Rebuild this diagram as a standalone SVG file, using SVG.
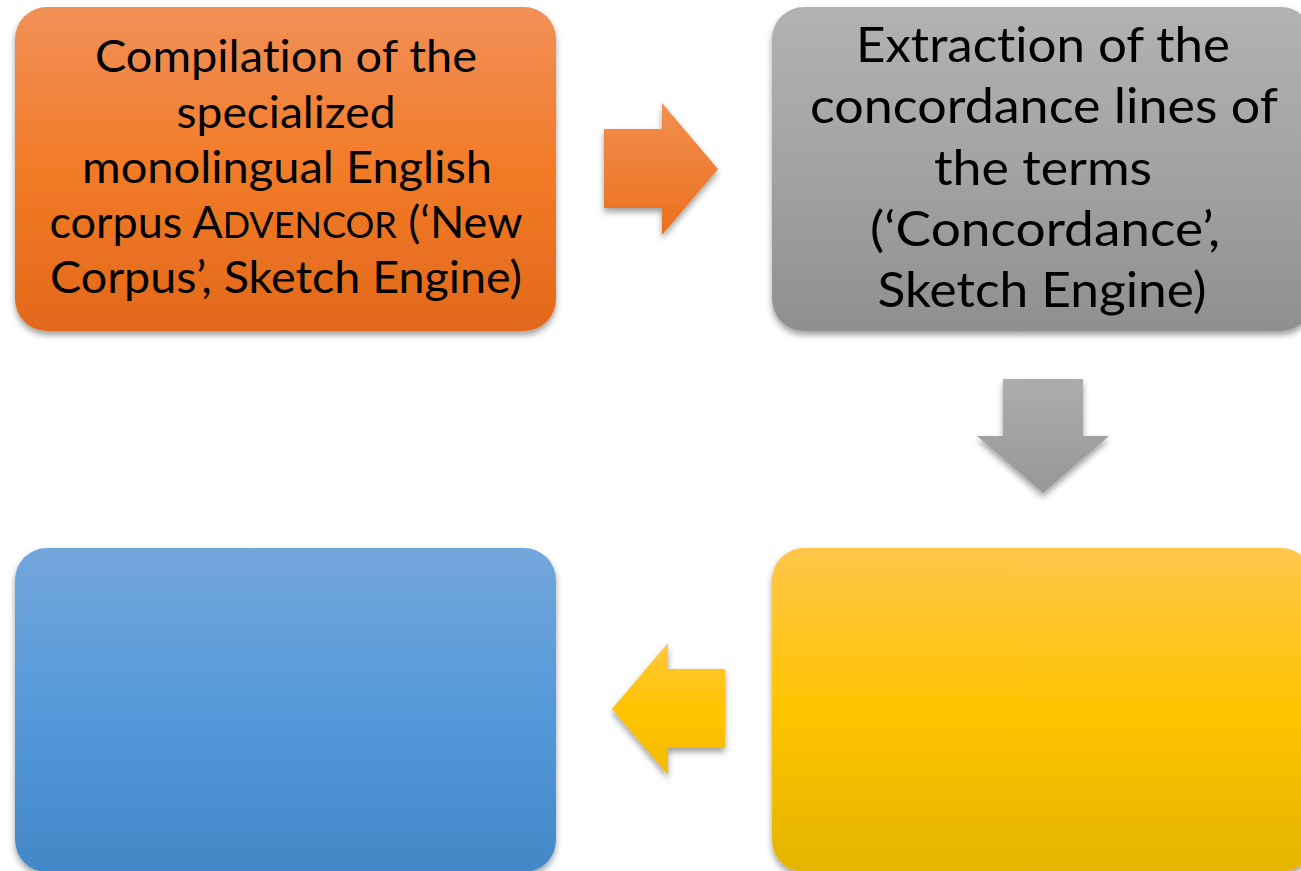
<svg xmlns="http://www.w3.org/2000/svg" width="1301" height="871" viewBox="0 0 1301 871">
<defs>
<linearGradient id="gO" x1="0" y1="0" x2="0" y2="1"><stop offset="0" stop-color="#F19058"/><stop offset="0.5" stop-color="#F27B28"/><stop offset="1" stop-color="#E2681A"/></linearGradient>
<linearGradient id="gG" x1="0" y1="0" x2="0" y2="1"><stop offset="0" stop-color="#B2B2B2"/><stop offset="0.5" stop-color="#A3A3A3"/><stop offset="1" stop-color="#8F8F8F"/></linearGradient>
<linearGradient id="gB" x1="0" y1="0" x2="0" y2="1"><stop offset="0" stop-color="#73A6DB"/><stop offset="0.5" stop-color="#5599DA"/><stop offset="1" stop-color="#4387C7"/></linearGradient>
<linearGradient id="gY" x1="0" y1="0" x2="0" y2="1"><stop offset="0" stop-color="#FFC64A"/><stop offset="0.5" stop-color="#FFC400"/><stop offset="1" stop-color="#E4B400"/></linearGradient>
<linearGradient id="gAO" x1="0" y1="0" x2="0" y2="1"><stop offset="0" stop-color="#F2904F"/><stop offset="1" stop-color="#EB6F1D"/></linearGradient>
<linearGradient id="gAG" x1="0" y1="0" x2="0" y2="1"><stop offset="0" stop-color="#ADADAD"/><stop offset="1" stop-color="#979797"/></linearGradient>
<linearGradient id="gAY" x1="0" y1="0" x2="0" y2="1"><stop offset="0" stop-color="#FFC73E"/><stop offset="0.5" stop-color="#FFC400"/><stop offset="1" stop-color="#F3BA00"/></linearGradient>
<filter id="sh" x="-10%" y="-10%" width="120%" height="125%"><feDropShadow dx="0" dy="4" stdDeviation="3" flood-color="#000" flood-opacity="0.38"/></filter>
</defs>
<style>
.t{font-family:Lato,"Liberation Sans",sans-serif;fill:#000;text-anchor:middle;font-variant-ligatures:none;font-feature-settings:"liga" 0,"clig" 0}
.o{font-size:45px}
.g{font-size:49px}
</style>
<rect width="1301" height="871" fill="#fff"/>
<g id="connectors">
<path filter="url(#sh)" fill="url(#gAO)" d="M604,129 H662 V103 L718,169 L662,235 V208 H604 Z"/>
<path filter="url(#sh)" fill="url(#gAG)" d="M1003,379 H1083 V436 H1109 L1043,493 L977,436 H1003 Z"/>
<path filter="url(#sh)" fill="url(#gAY)" d="M725,669 H668 V643 L612,709 L668,775 V748 H725 Z"/>
</g>
<g id="n1">
<rect filter="url(#sh)" x="15" y="7" width="541" height="324" rx="32" fill="url(#gO)"/>
<text class="t o" x="286" y="72" textLength="382" lengthAdjust="spacingAndGlyphs">Compilation of the</text>
<text class="t o" x="286" y="128" textLength="219" lengthAdjust="spacingAndGlyphs">specialized</text>
<text class="t o" x="287" y="183" textLength="410" lengthAdjust="spacingAndGlyphs">monolingual English</text>
<text class="t o" x="286" y="238" textLength="473" lengthAdjust="spacingAndGlyphs">corpus A<tspan font-size="36">DVENCOR</tspan> (‘New</text>
<text class="t o" x="286" y="293" textLength="472" lengthAdjust="spacingAndGlyphs">Corpus’, Sketch Engine)</text>
</g>
<g id="n2">
<rect filter="url(#sh)" x="772" y="7" width="541" height="324" rx="32" fill="url(#gG)"/>
<text class="t g" x="1043" y="62" textLength="374" lengthAdjust="spacingAndGlyphs">Extraction of the</text>
<text class="t g" x="1044" y="123" textLength="468" lengthAdjust="spacingAndGlyphs">concordance lines of</text>
<text class="t g" x="1043" y="185" textLength="218" lengthAdjust="spacingAndGlyphs">the terms</text>
<text class="t g" x="1045" y="246" textLength="350" lengthAdjust="spacingAndGlyphs">(‘Concordance’,</text>
<text class="t g" x="1042" y="307" textLength="329" lengthAdjust="spacingAndGlyphs">Sketch Engine)</text>
</g>
<g id="n3">
<rect filter="url(#sh)" x="772" y="548" width="541" height="324" rx="32" fill="url(#gY)"/>
</g>
<g id="n4">
<rect filter="url(#sh)" x="15" y="548" width="541" height="324" rx="32" fill="url(#gB)"/>
</g>
</svg>
